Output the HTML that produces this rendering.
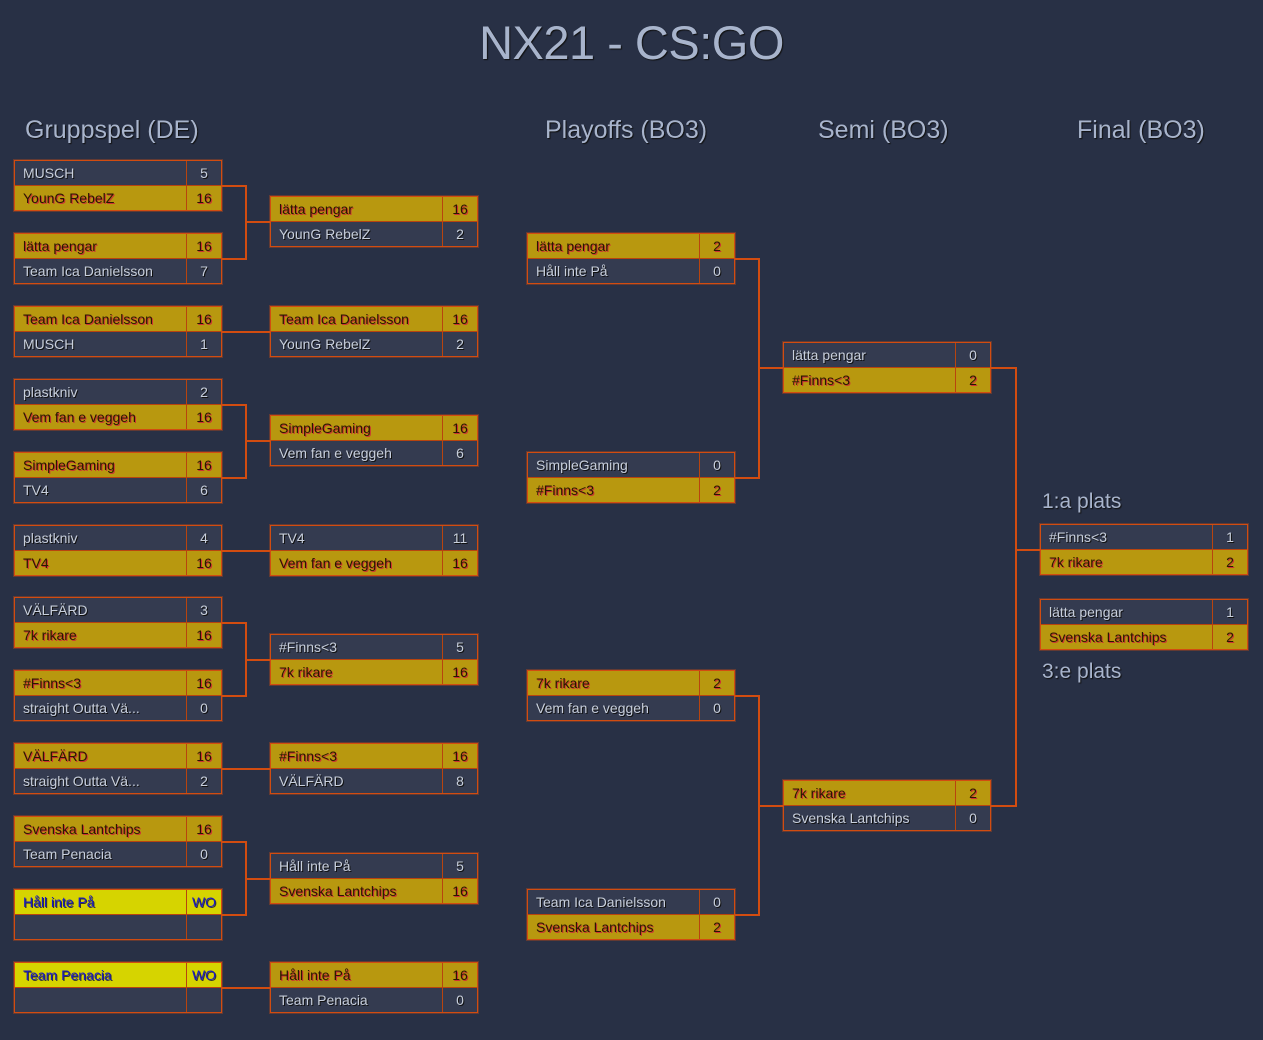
<!DOCTYPE html><html><head><meta charset="utf-8"><style>
body{margin:0;width:1263px;height:1040px;background:#283045;font-family:"Liberation Sans",sans-serif;position:relative;overflow:hidden}
.t{position:absolute;color:#a8b4cc;text-shadow:1px 1px 1px #111;white-space:nowrap}
.b{position:absolute;width:206px;height:49px;border:1px solid #d24c10;box-shadow:0 0 0 1px rgba(210,76,16,.35)}
.r{height:24px;display:flex;font-size:14px;line-height:25px}
.r+.r{border-top:1px solid #b8440e}
.n{flex:1;padding-left:8px;overflow:hidden;white-space:nowrap}
.s{width:34px;border-left:1px solid #b8440e;text-align:center}
.d{background:#343b50;color:#c8cfdc;text-shadow:1px 1px 0 #111}
.g{background:#b8980f;color:#2a1800;text-shadow:1px 1px 0 #c33}
.y{background:#d6d400;color:#1a1ac8;text-shadow:1px 1px 0 #333}
.l{position:absolute;background:#d24c10}
</style></head><body>
<div class="t" style="left:0;width:1263px;text-align:center;top:15px;font-size:47px;letter-spacing:-0.5px">NX21 - CS:GO</div>
<div class="t" style="left:25px;top:116px;font-size:25px">Gruppspel (DE)</div>
<div class="t" style="left:545px;top:116px;font-size:25px">Playoffs (BO3)</div>
<div class="t" style="left:818px;top:116px;font-size:25px">Semi (BO3)</div>
<div class="t" style="left:1077px;top:116px;font-size:25px">Final (BO3)</div>
<div class="t" style="left:1042px;top:490px;font-size:21px">1:a plats</div>
<div class="t" style="left:1042px;top:660px;font-size:21px">3:e plats</div>

<!-- col1 -->
<div class="b" style="left:14px;top:160px"><div class="r d"><div class="n">MUSCH</div><div class="s">5</div></div><div class="r g"><div class="n">YounG RebelZ</div><div class="s">16</div></div></div>
<div class="b" style="left:14px;top:233px"><div class="r g"><div class="n">lätta pengar</div><div class="s">16</div></div><div class="r d"><div class="n">Team Ica Danielsson</div><div class="s">7</div></div></div>
<div class="b" style="left:14px;top:306px"><div class="r g"><div class="n">Team Ica Danielsson</div><div class="s">16</div></div><div class="r d"><div class="n">MUSCH</div><div class="s">1</div></div></div>
<div class="b" style="left:14px;top:379px"><div class="r d"><div class="n">plastkniv</div><div class="s">2</div></div><div class="r g"><div class="n">Vem fan e veggeh</div><div class="s">16</div></div></div>
<div class="b" style="left:14px;top:452px"><div class="r g"><div class="n">SimpleGaming</div><div class="s">16</div></div><div class="r d"><div class="n">TV4</div><div class="s">6</div></div></div>
<div class="b" style="left:14px;top:525px"><div class="r d"><div class="n">plastkniv</div><div class="s">4</div></div><div class="r g"><div class="n">TV4</div><div class="s">16</div></div></div>
<div class="b" style="left:14px;top:597px"><div class="r d"><div class="n">VÄLFÄRD</div><div class="s">3</div></div><div class="r g"><div class="n">7k rikare</div><div class="s">16</div></div></div>
<div class="b" style="left:14px;top:670px"><div class="r g"><div class="n">#Finns&lt;3</div><div class="s">16</div></div><div class="r d"><div class="n">straight Outta Vä...</div><div class="s">0</div></div></div>
<div class="b" style="left:14px;top:743px"><div class="r g"><div class="n">VÄLFÄRD</div><div class="s">16</div></div><div class="r d"><div class="n">straight Outta Vä...</div><div class="s">2</div></div></div>
<div class="b" style="left:14px;top:816px"><div class="r g"><div class="n">Svenska Lantchips</div><div class="s">16</div></div><div class="r d"><div class="n">Team Penacia</div><div class="s">0</div></div></div>
<div class="b" style="left:14px;top:889px"><div class="r y"><div class="n">Håll inte På</div><div class="s">WO</div></div><div class="r d"><div class="n"></div><div class="s"></div></div></div>
<div class="b" style="left:14px;top:962px"><div class="r y"><div class="n">Team Penacia</div><div class="s">WO</div></div><div class="r d"><div class="n"></div><div class="s"></div></div></div>

<!-- col2 -->
<div class="b" style="left:270px;top:196px"><div class="r g"><div class="n">lätta pengar</div><div class="s">16</div></div><div class="r d"><div class="n">YounG RebelZ</div><div class="s">2</div></div></div>
<div class="b" style="left:270px;top:306px"><div class="r g"><div class="n">Team Ica Danielsson</div><div class="s">16</div></div><div class="r d"><div class="n">YounG RebelZ</div><div class="s">2</div></div></div>
<div class="b" style="left:270px;top:415px"><div class="r g"><div class="n">SimpleGaming</div><div class="s">16</div></div><div class="r d"><div class="n">Vem fan e veggeh</div><div class="s">6</div></div></div>
<div class="b" style="left:270px;top:525px"><div class="r d"><div class="n">TV4</div><div class="s">11</div></div><div class="r g"><div class="n">Vem fan e veggeh</div><div class="s">16</div></div></div>
<div class="b" style="left:270px;top:634px"><div class="r d"><div class="n">#Finns&lt;3</div><div class="s">5</div></div><div class="r g"><div class="n">7k rikare</div><div class="s">16</div></div></div>
<div class="b" style="left:270px;top:743px"><div class="r g"><div class="n">#Finns&lt;3</div><div class="s">16</div></div><div class="r d"><div class="n">VÄLFÄRD</div><div class="s">8</div></div></div>
<div class="b" style="left:270px;top:853px"><div class="r d"><div class="n">Håll inte På</div><div class="s">5</div></div><div class="r g"><div class="n">Svenska Lantchips</div><div class="s">16</div></div></div>
<div class="b" style="left:270px;top:962px"><div class="r g"><div class="n">Håll inte På</div><div class="s">16</div></div><div class="r d"><div class="n">Team Penacia</div><div class="s">0</div></div></div>

<!-- playoffs -->
<div class="b" style="left:527px;top:233px"><div class="r g"><div class="n">lätta pengar</div><div class="s">2</div></div><div class="r d"><div class="n">Håll inte På</div><div class="s">0</div></div></div>
<div class="b" style="left:527px;top:452px"><div class="r d"><div class="n">SimpleGaming</div><div class="s">0</div></div><div class="r g"><div class="n">#Finns&lt;3</div><div class="s">2</div></div></div>
<div class="b" style="left:527px;top:670px"><div class="r g"><div class="n">7k rikare</div><div class="s">2</div></div><div class="r d"><div class="n">Vem fan e veggeh</div><div class="s">0</div></div></div>
<div class="b" style="left:527px;top:889px"><div class="r d"><div class="n">Team Ica Danielsson</div><div class="s">0</div></div><div class="r g"><div class="n">Svenska Lantchips</div><div class="s">2</div></div></div>

<!-- semi -->
<div class="b" style="left:783px;top:342px"><div class="r d"><div class="n">lätta pengar</div><div class="s">0</div></div><div class="r g"><div class="n">#Finns&lt;3</div><div class="s">2</div></div></div>
<div class="b" style="left:783px;top:780px"><div class="r g"><div class="n">7k rikare</div><div class="s">2</div></div><div class="r d"><div class="n">Svenska Lantchips</div><div class="s">0</div></div></div>

<!-- final -->
<div class="b" style="left:1040px;top:524px"><div class="r d"><div class="n">#Finns&lt;3</div><div class="s">1</div></div><div class="r g"><div class="n">7k rikare</div><div class="s">2</div></div></div>
<div class="b" style="left:1040px;top:599px"><div class="r d"><div class="n">lätta pengar</div><div class="s">1</div></div><div class="r g"><div class="n">Svenska Lantchips</div><div class="s">2</div></div></div>

<!-- connectors col1->col2 -->
<div class="l" style="left:222px;top:185px;width:25px;height:2px"></div>
<div class="l" style="left:222px;top:258px;width:25px;height:2px"></div>
<div class="l" style="left:245px;top:185px;width:2px;height:75px"></div>
<div class="l" style="left:245px;top:221px;width:25px;height:2px"></div>
<div class="l" style="left:222px;top:331px;width:48px;height:2px"></div>
<div class="l" style="left:222px;top:404px;width:25px;height:2px"></div>
<div class="l" style="left:222px;top:477px;width:25px;height:2px"></div>
<div class="l" style="left:245px;top:404px;width:2px;height:75px"></div>
<div class="l" style="left:245px;top:440px;width:25px;height:2px"></div>
<div class="l" style="left:222px;top:550px;width:48px;height:2px"></div>
<div class="l" style="left:222px;top:622px;width:25px;height:2px"></div>
<div class="l" style="left:222px;top:695px;width:25px;height:2px"></div>
<div class="l" style="left:245px;top:622px;width:2px;height:75px"></div>
<div class="l" style="left:245px;top:659px;width:25px;height:2px"></div>
<div class="l" style="left:222px;top:768px;width:48px;height:2px"></div>
<div class="l" style="left:222px;top:841px;width:25px;height:2px"></div>
<div class="l" style="left:222px;top:914px;width:25px;height:2px"></div>
<div class="l" style="left:245px;top:841px;width:2px;height:75px"></div>
<div class="l" style="left:245px;top:878px;width:25px;height:2px"></div>
<div class="l" style="left:222px;top:987px;width:48px;height:2px"></div>
<!-- playoffs->semi -->
<div class="l" style="left:735px;top:258px;width:25px;height:2px"></div>
<div class="l" style="left:735px;top:477px;width:25px;height:2px"></div>
<div class="l" style="left:758px;top:258px;width:2px;height:221px"></div>
<div class="l" style="left:758px;top:367px;width:25px;height:2px"></div>
<div class="l" style="left:735px;top:695px;width:25px;height:2px"></div>
<div class="l" style="left:735px;top:914px;width:25px;height:2px"></div>
<div class="l" style="left:758px;top:695px;width:2px;height:221px"></div>
<div class="l" style="left:758px;top:805px;width:25px;height:2px"></div>
<!-- semi->final -->
<div class="l" style="left:991px;top:367px;width:26px;height:2px"></div>
<div class="l" style="left:991px;top:805px;width:26px;height:2px"></div>
<div class="l" style="left:1015px;top:367px;width:2px;height:440px"></div>
<div class="l" style="left:1015px;top:549px;width:25px;height:2px"></div>
</body></html>
